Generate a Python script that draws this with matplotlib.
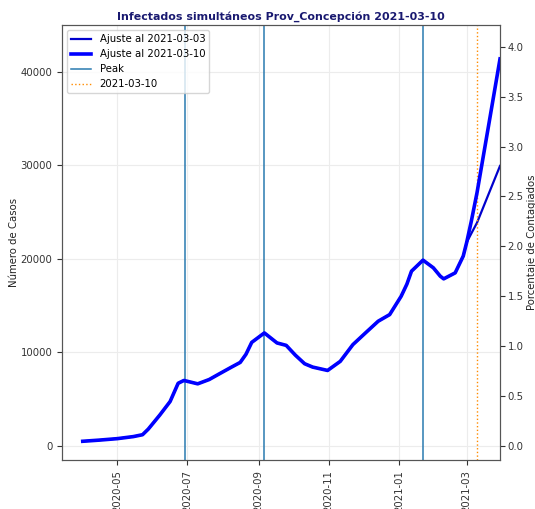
import matplotlib
matplotlib.use("Agg")
import matplotlib.pyplot as plt
import matplotlib.dates as mdates
import numpy as np
import pandas as pd

# Common fitted curve (both fits coincide until early March 2021)
base_dates = ["2020-04-01", "2020-04-15", "2020-05-01", "2020-05-15", "2020-05-23",
              "2020-05-28", "2020-06-07", "2020-06-16", "2020-06-23", "2020-06-28",
              "2020-07-03", "2020-07-10", "2020-07-20", "2020-07-29", "2020-08-08",
              "2020-08-16", "2020-08-21", "2020-08-26", "2020-09-06", "2020-09-17",
              "2020-09-25", "2020-10-03", "2020-10-11", "2020-10-18", "2020-10-31",
              "2020-11-11", "2020-11-22", "2020-12-04", "2020-12-14", "2020-12-24",
              "2021-01-03", "2021-01-08", "2021-01-12", "2021-01-22", "2021-01-31",
              "2021-02-06", "2021-02-09", "2021-02-19", "2021-02-26", "2021-03-01"]
base_values = [500, 620, 780, 1000, 1200,
               1800, 3300, 4750, 6700, 7000,
               6850, 6640, 7100, 7720, 8400,
               8930, 9800, 11070, 12080, 11010,
               10750, 9700, 8790, 8430, 8070,
               9040, 10830, 12200, 13330, 14040,
               16000, 17300, 18680, 19860, 19040,
               18150, 17860, 18500, 20290, 21750]

tail_dates = ["2021-03-05", "2021-03-10", "2021-03-20", "2021-03-30"]
fit_0303_tail = [22700, 23860, 26900, 29930]
fit_0310_tail = [24000, 27070, 34200, 41370]

peak_dates = ["2020-06-29", "2020-09-06", "2021-01-22"]
report_date = "2021-03-10"
population = 1066850

dates_all = pd.to_datetime(base_dates + tail_dates)
y_0303 = base_values + fit_0303_tail
y_0310 = base_values + fit_0310_tail

FS = 7.3
fig = plt.figure(figsize=(5.35, 5.09), dpi=100)
ax = fig.add_axes([0.116, 0.0963, 0.8186, 0.8547])

ax.plot(dates_all, y_0303, color="mediumblue", lw=1.6, label="Ajuste al 2021-03-03", zorder=2)
ax.plot(dates_all, y_0310, color="blue", lw=2.6, label="Ajuste al 2021-03-10", zorder=3)
for i, d in enumerate(peak_dates):
    ax.axvline(pd.Timestamp(d), color="#2a7ab0", lw=1.1, label="Peak" if i == 0 else None)
ax.axvline(pd.Timestamp(report_date), color="darkorange", ls=":", lw=1.0, label=report_date)

ax.set_xlim(pd.Timestamp("2020-03-14"), pd.Timestamp("2021-03-30"))
ax.set_ylim(-1500, 45000)
ax.set_yticks([0, 10000, 20000, 30000, 40000])
ax.xaxis.set_major_locator(mdates.MonthLocator(bymonth=[1, 3, 5, 7, 9, 11]))
ax.xaxis.set_major_formatter(mdates.DateFormatter("%Y-%m"))
ax.tick_params(axis="x", rotation=90, labelsize=FS, colors="#333333")
ax.tick_params(axis="y", labelsize=FS, colors="#333333")
ax.grid(True, color="#ececec", lw=0.8)
ax.set_ylabel("Número de Casos", fontsize=FS, color="#222222", labelpad=1)
ax.set_title("Infectados simultáneos Prov_Concepción 2021-03-10",
             color="midnightblue", fontweight="bold", fontsize=7.9, pad=4)
ax.legend(loc="upper left", fontsize=FS)

ax2 = ax.twinx()
lo, hi = ax.get_ylim()
ax2.set_ylim(lo / population * 100, hi / population * 100)
ax2.set_yticks(np.arange(0, 4.01, 0.5))
ax2.tick_params(axis="y", labelsize=FS, colors="#333333", pad=2)
ax2.set_ylabel("Porcentaje de Contagiados", fontsize=FS, color="#222222", labelpad=2)

for a in (ax, ax2):
    for s in a.spines.values():
        s.set_color("#555555")

fig.savefig("out.png", dpi=100)
